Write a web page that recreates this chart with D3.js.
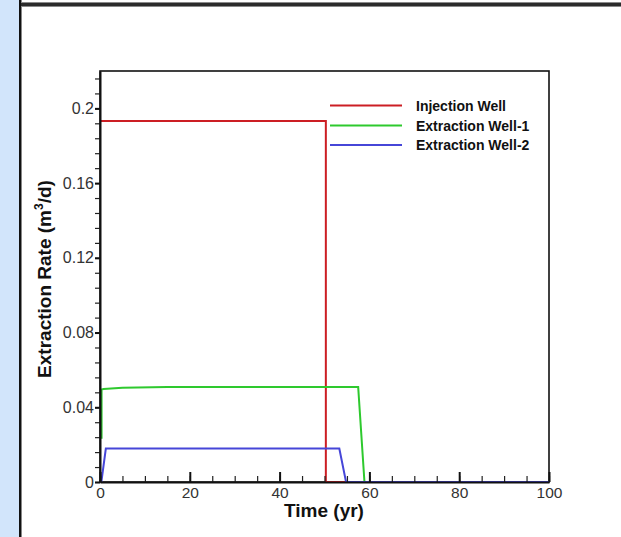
<!DOCTYPE html>
<html>
<head>
<meta charset="utf-8">
<script src="https://cdn.jsdelivr.net/npm/d3@7"></script>
<style>
  html, body { margin: 0; padding: 0; background: #fff; }
  svg { display: block; }
  text { font-family: "Liberation Sans", Arial, sans-serif; }
</style>
</head>
<body>
<svg id="chart" width="621" height="537"></svg>
<script>
// Well flow-rate histories (time in years, rate in m³/d)
const injectionTime = [0, 50.3, 50.3, 100];
const injectionRate = [0.1933, 0.1933, 0, 0];

const extraction1Time = [0.35, 0.35, 0.8, 5, 15, 57.5, 58.9, 100];
const extraction1Rate = [0.0232, 0.0495, 0.0498, 0.0505, 0.0509, 0.0509, 0, 0];

const extraction2Time = [0.3, 1.3, 53.3, 54.8, 100];
const extraction2Rate = [0, 0.0179, 0.0179, 0, 0];

const seriesNames = ["Injection Well", "Extraction Well-1", "Extraction Well-2"];
const seriesColors = ["#cc1e24", "#2ec92e", "#4646d8"];

const xMajorTicks = [0, 20, 40, 60, 80, 100];
const xMinorTicks = d3.range(0, 101, 5);
const yMajorTicks = [0, 0.04, 0.08, 0.12, 0.16, 0.2];
const yTickLabels = ["0", "0.04", "0.08", "0.12", "0.16", "0.2"];
const yMinorTicks = d3.range(0, 28).map(i => +(i * 0.008).toFixed(3));

const svg = d3.select("#chart");

// page frame: blue side strip and top rule
svg.append("rect").attr("x", 0).attr("y", 0).attr("width", 19).attr("height", 537).attr("fill", "#d2e5fb");
svg.append("rect").attr("x", 19).attr("y", 0).attr("width", 2.5).attr("height", 537).attr("fill", "#111");
svg.append("rect").attr("x", 21).attr("y", 2).attr("width", 600).attr("height", 5).attr("fill", "#8a8a8a");
svg.append("rect").attr("x", 21).attr("y", 3).attr("width", 600).attr("height", 3).attr("fill", "#2b2b2b");

const plotLeft = 100, plotRight = 549, plotTop = 71, plotBottom = 482;
const x = d3.scaleLinear().domain([0, 100]).range([plotLeft, plotRight]);
const y = d3.scaleLinear().domain([0, 0.22]).range([plotBottom, plotTop]);

// plot box
svg.append("rect")
  .attr("x", plotLeft).attr("y", plotTop)
  .attr("width", plotRight - plotLeft).attr("height", plotBottom - plotTop)
  .attr("fill", "none").attr("stroke", "#111").attr("stroke-width", 1.6);

// series
const line = d3.line().x(d => x(d[0])).y(d => y(d[1]));
const series = [
  d3.zip(injectionTime, injectionRate),
  d3.zip(extraction1Time, extraction1Rate),
  d3.zip(extraction2Time, extraction2Rate)
];
series.forEach((pts, i) => {
  svg.append("path")
    .datum(pts)
    .attr("d", line)
    .attr("fill", "none")
    .attr("stroke", seriesColors[i])
    .attr("stroke-width", 2)
    .attr("stroke-linejoin", "miter");
});

// x axis: inward ticks
const xMinor = svg.append("g").attr("transform", `translate(0,${plotBottom})`)
  .call(d3.axisBottom(x).tickValues(xMinorTicks).tickSize(-6).tickFormat(""));
xMinor.select(".domain").remove();
xMinor.selectAll("line").attr("stroke", "#222").attr("stroke-width", 1.2);

const xAxis = svg.append("g").attr("transform", `translate(0,${plotBottom})`)
  .call(d3.axisBottom(x).tickValues(xMajorTicks).tickSizeInner(-10).tickSizeOuter(0).tickPadding(5).tickFormat(d3.format("d")));
xAxis.select(".domain").attr("stroke", "#111").attr("stroke-width", 2);
xAxis.selectAll("line").attr("stroke", "#111").attr("stroke-width", 2);
xAxis.selectAll("text").attr("font-size", 15.5).attr("fill", "#333");

// y axis: outward ticks
const yMinor = svg.append("g").attr("transform", `translate(${plotLeft},0)`)
  .call(d3.axisLeft(y).tickValues(yMinorTicks).tickSize(5).tickFormat(""));
yMinor.select(".domain").remove();
yMinor.selectAll("line").attr("stroke", "#222").attr("stroke-width", 1.2);

const yAxis = svg.append("g").attr("transform", `translate(${plotLeft},0)`)
  .call(d3.axisLeft(y).tickValues(yMajorTicks).tickSizeInner(5).tickSizeOuter(0).tickPadding(1)
    .tickFormat((d, i) => yTickLabels[i]));
yAxis.select(".domain").attr("stroke", "#111").attr("stroke-width", 2);
yAxis.selectAll("line").attr("stroke", "#111").attr("stroke-width", 2);
yAxis.selectAll("text").attr("font-size", 16).attr("fill", "#333");

// axis titles
svg.append("text")
  .attr("x", 324).attr("y", 517)
  .attr("text-anchor", "middle")
  .attr("font-size", 19).attr("font-weight", "bold").attr("fill", "#111")
  .text("Time (yr)");

const yTitle = svg.append("text")
  .attr("transform", "translate(51,279) rotate(-90)")
  .attr("text-anchor", "middle")
  .attr("font-size", 19).attr("font-weight", "bold").attr("fill", "#111");
yTitle.append("tspan").text("Extraction Rate (m");
yTitle.append("tspan").attr("font-size", 12).attr("dy", -8).text("3");
yTitle.append("tspan").attr("dy", 8).text("/d)");

// legend
const legend = svg.append("g");
const legendY = [105.5, 125.5, 145];
seriesNames.forEach((name, i) => {
  legend.append("line")
    .attr("x1", 330).attr("x2", 402)
    .attr("y1", legendY[i]).attr("y2", legendY[i])
    .attr("stroke", seriesColors[i]).attr("stroke-width", 2);
  legend.append("text")
    .attr("x", 416).attr("y", legendY[i] + 5)
    .attr("font-size", 14).attr("font-weight", "bold").attr("fill", "#111")
    .text(name);
});
</script>
</body>
</html>
